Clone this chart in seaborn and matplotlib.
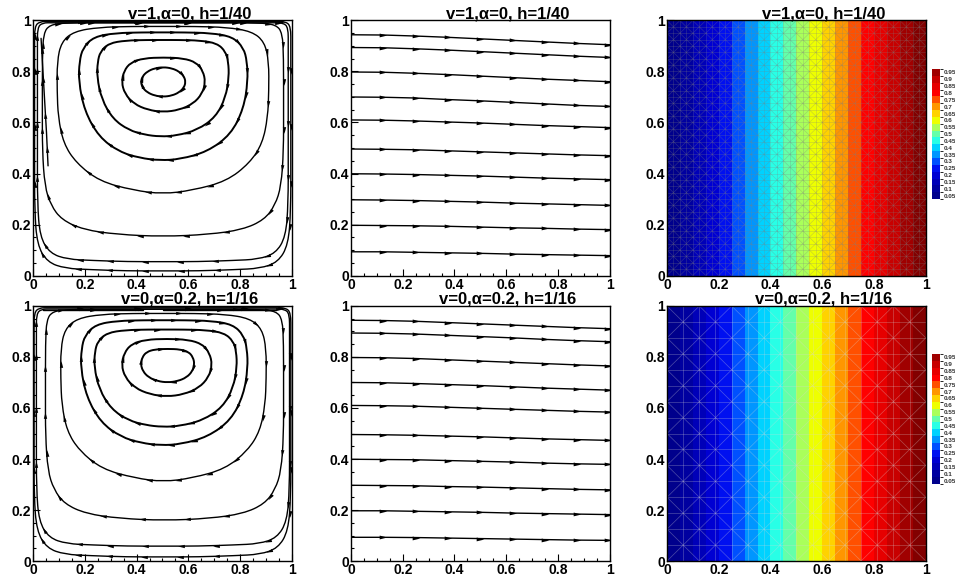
import numpy as np
import matplotlib
matplotlib.use("Agg")
import matplotlib.pyplot as plt
from matplotlib.collections import LineCollection
from matplotlib.colors import ListedColormap, BoundaryNorm
from matplotlib.cm import ScalarMappable
from matplotlib.markers import MarkerStyle
from matplotlib.path import Path
from matplotlib.patches import PathPatch
from matplotlib.transforms import Affine2D
from matplotlib.ticker import FixedLocator, MultipleLocator
import seaborn as sns

sns.set_style("white")
plt.rcParams['font.family'] = ['Liberation Sans', 'DejaVu Sans']
plt.rcParams['font.weight'] = 'bold'
plt.rcParams['text.color'] = 'k'
plt.rcParams['xtick.color'] = 'k'
plt.rcParams['ytick.color'] = 'k'


#%% Data
titles   = ["v=1,\u03b1=0, h=1/40", "v=0,\u03b1=0.2, h=1/16"]
mesh_h   = [1/40, 1/16]

tick_vals   = [0, 0.2, 0.4, 0.6, 0.8, 1]
tick_labels = ["0", "0.2", "0.4", "0.6", "0.8", "1"]

# --- cavity streamlines: normalised loop shapes (clockwise, from left side)
profile_ellipse = [(-0.01, 0.50), (0.029, 0.695), (0.139, 0.861), (0.305, 0.971),
                   (0.50, 1.01), (0.695, 0.971), (0.861, 0.861), (0.971, 0.695),
                   (1.01, 0.50), (0.971, 0.305), (0.861, 0.139), (0.695, 0.029),
                   (0.50, -0.01), (0.305, 0.029), (0.139, 0.139), (0.029, 0.305)]
profile_dome = [(-0.01, 0.55), (0.02, 0.76), (0.10, 0.92), (0.26, 1.00), (0.50, 1.015),
                (0.74, 1.00), (0.90, 0.92), (0.98, 0.76), (1.01, 0.55), (0.97, 0.33),
                (0.86, 0.14), (0.69, 0.025), (0.50, -0.015), (0.31, 0.025), (0.14, 0.14),
                (0.03, 0.33)]
profile_bowl = [(0.00, 0.62), (0.005, 0.78), (0.025, 0.89), (0.09, 0.98), (0.22, 1.01),
                (0.38, 1.015), (0.50, 1.015), (0.62, 1.015), (0.78, 1.01), (0.91, 0.98),
                (0.975, 0.89), (0.995, 0.78), (1.00, 0.62), (0.975, 0.40), (0.90, 0.19),
                (0.76, 0.05), (0.60, -0.01), (0.48, -0.02), (0.36, 0.00), (0.24, 0.05),
                (0.12, 0.17), (0.035, 0.38)]
profile_cup  = [(0.00, 0.62), (0.00, 0.80), (0.02, 0.92), (0.08, 0.985), (0.20, 1.01),
                (0.35, 1.015), (0.50, 1.015), (0.65, 1.015), (0.80, 1.01), (0.92, 0.985),
                (0.98, 0.92), (1.00, 0.80), (1.00, 0.62), (0.995, 0.46), (0.97, 0.30),
                (0.91, 0.18), (0.80, 0.068), (0.64, 0.013), (0.50, -0.01), (0.36, 0.013),
                (0.20, 0.068), (0.09, 0.18), (0.03, 0.30), (0.005, 0.46)]
profile_box  = [(0.00, 0.60), (0.00, 0.85), (0.005, 0.96), (0.03, 1.00), (0.10, 1.01),
                (0.30, 1.01), (0.50, 1.01), (0.70, 1.01), (0.90, 1.01), (0.97, 1.00),
                (0.995, 0.96), (1.00, 0.85), (1.00, 0.60), (1.00, 0.40), (0.99, 0.23),
                (0.965, 0.14), (0.92, 0.07), (0.83, 0.023), (0.69, 0.00), (0.50, -0.01),
                (0.31, 0.00), (0.17, 0.023), (0.08, 0.07), (0.035, 0.14), (0.01, 0.23),
                (0.00, 0.40)]
profile_wall = [(0.00, 0.70), (0.00, 0.90), (0.00, 0.98), (0.02, 1.00), (0.06, 1.00),
                (0.30, 1.00), (0.50, 1.00), (0.70, 1.00), (0.94, 1.00), (0.98, 1.00),
                (1.00, 0.98), (1.00, 0.90), (1.00, 0.70), (1.00, 0.45), (1.00, 0.24),
                (0.99, 0.10), (0.95, 0.03), (0.88, 0.005), (0.78, 0.00), (0.64, -0.005),
                (0.50, -0.005), (0.36, -0.005), (0.22, 0.00), (0.12, 0.005), (0.05, 0.03),
                (0.01, 0.10), (0.00, 0.24), (0.00, 0.45)]
profiles = {"ellipse": profile_ellipse, "dome": profile_dome, "bowl": profile_bowl,
            "cup": profile_cup, "box": profile_box, "wall": profile_wall}

# loop extents (left, right, bottom, top) and shape, inner -> outer
loops_top = [((0.418, 0.588, 0.702, 0.816), "ellipse"),
             ((0.345, 0.663, 0.644, 0.852), "dome"),
             ((0.247, 0.757, 0.552, 0.918), "bowl"),
             ((0.176, 0.830, 0.461, 0.946), "bowl"),
             ((0.093, 0.911, 0.326, 0.967), "cup"),
             ((0.036, 0.968, 0.161, 0.983), "box"),
             ((0.017, 0.986, 0.059, 0.991), "wall"),
             ((0.006, 0.996, 0.023, 0.996), "wall")]
loops_bot = [((0.418, 0.622, 0.702, 0.830), "dome"),
             ((0.345, 0.689, 0.648, 0.868), "dome"),
             ((0.236, 0.788, 0.533, 0.902), "bowl"),
             ((0.184, 0.830, 0.463, 0.937), "bowl"),
             ((0.107, 0.901, 0.317, 0.961), "cup"),
             ((0.048, 0.968, 0.167, 0.979), "box"),
             ((0.013, 0.991, 0.063, 0.988), "wall"),
             ((0.004, 0.996, 0.021, 0.993), "wall")]

open_top = [[(0.058, 0.43), (0.052, 0.56), (0.044, 0.70), (0.036, 0.84), (0.031, 0.93)]]
open_bot = [[(0.039, 0.986), (0.425, 0.986)],
            [(0.502, 0.986), (0.940, 0.986)]]

# --- channel streamlines: y at x stations
line_x = [0, 0.125, 0.25, 0.375, 0.5, 0.625, 0.75, 0.875, 1.0]
lines_top = [[0.944, 0.943, 0.939, 0.934, 0.928, 0.922, 0.916, 0.910, 0.905],
             [0.894, 0.893, 0.889, 0.884, 0.878, 0.872, 0.866, 0.860, 0.855],
             [0.798, 0.797, 0.793, 0.788, 0.782, 0.776, 0.770, 0.765, 0.760],
             [0.700, 0.699, 0.696, 0.690, 0.685, 0.679, 0.673, 0.667, 0.663],
             [0.610, 0.609, 0.606, 0.602, 0.598, 0.593, 0.588, 0.584, 0.580],
             [0.496, 0.495, 0.493, 0.489, 0.485, 0.481, 0.477, 0.473, 0.470],
             [0.399, 0.398, 0.396, 0.393, 0.390, 0.386, 0.382, 0.379, 0.376],
             [0.297, 0.296, 0.294, 0.291, 0.288, 0.284, 0.281, 0.278, 0.275],
             [0.197, 0.196, 0.195, 0.193, 0.190, 0.187, 0.185, 0.182, 0.180],
             [0.093, 0.093, 0.091, 0.089, 0.087, 0.084, 0.082, 0.080, 0.078]]
lines_bot = [[0.944, 0.943, 0.940, 0.935, 0.930, 0.925, 0.920, 0.915, 0.911],
             [0.894, 0.893, 0.890, 0.885, 0.880, 0.875, 0.869, 0.864, 0.860],
             [0.798, 0.797, 0.794, 0.789, 0.784, 0.779, 0.774, 0.769, 0.765],
             [0.700, 0.699, 0.696, 0.692, 0.688, 0.683, 0.678, 0.674, 0.670],
             [0.610, 0.609, 0.607, 0.603, 0.599, 0.595, 0.591, 0.587, 0.584],
             [0.496, 0.495, 0.493, 0.490, 0.487, 0.483, 0.479, 0.476, 0.473],
             [0.399, 0.398, 0.397, 0.394, 0.391, 0.388, 0.384, 0.381, 0.379],
             [0.297, 0.296, 0.295, 0.292, 0.290, 0.287, 0.284, 0.281, 0.279],
             [0.197, 0.197, 0.195, 0.193, 0.191, 0.188, 0.186, 0.184, 0.182],
             [0.093, 0.093, 0.092, 0.090, 0.088, 0.086, 0.084, 0.082, 0.081]]

# --- temperature field (corner values, linear in x)
T_x      = [0, 1]
T_y      = [0, 1]
T_values = [[0, 1], [0, 1]]
T_levels = [0.05, 0.1, 0.15, 0.2, 0.25, 0.3, 0.35, 0.4, 0.45, 0.5,
            0.55, 0.6, 0.65, 0.7, 0.75, 0.8, 0.85, 0.9, 0.95]
band_colors = ["#00008c", "#0000a0", "#0000b8", "#0000d2", "#0010f0",
               "#0050ff", "#0096ff", "#00d2ff", "#28ffe6", "#64ffaa",
               "#aaff5a", "#eeff00", "#ffd200", "#ff9600", "#ff5000",
               "#ff0000", "#e60000", "#c80000", "#a00000", "#820000"]


#%% Layout
Fig_Width, Fig_Height = 9.55, 5.77
col_left   = [0.0346, 0.3675, 0.6984]
col_width  = 0.271
row_bottom = [0.5225, 0.0277]
row_height = 0.442
cbar_left, cbar_width, cbar_height = 0.9759, 0.0084, 0.2253
cbar_bottom = [0.655, 0.1612]

FontSize_TickLabel = 10
FontSize_Title     = 12
Line_Width_Inner   = 1.4
Line_Width_Outer   = 1.0
Arrow_Size_Loop    = 4.8
Arrow_Size_Line    = 5.5

tri_path = Path([(1, 0), (-1, 0.5), (-1, -0.5), (1, 0)],
                [Path.MOVETO, Path.LINETO, Path.LINETO, Path.CLOSEPOLY])


def arrow_marker(theta):
    return MarkerStyle(tri_path, transform=Affine2D().rotate(theta))


def style_axes(ax):
    ax.set_xlim(0, 1)
    ax.set_ylim(0, 1)
    ax.xaxis.set_major_locator(FixedLocator(tick_vals))
    ax.yaxis.set_major_locator(FixedLocator(tick_vals))
    ax.set_xticklabels(tick_labels, fontsize=FontSize_TickLabel, fontweight="bold")
    ax.set_yticklabels(tick_labels, fontsize=FontSize_TickLabel, fontweight="bold")
    ax.xaxis.set_minor_locator(MultipleLocator(0.05))
    ax.yaxis.set_minor_locator(MultipleLocator(0.05))
    ax.tick_params(which="both", direction="in", top=False, right=False,
                   bottom=True, left=True, color="k", width=0.8, pad=1.5)
    ax.tick_params(which="major", length=5)
    ax.tick_params(which="minor", length=2.5)
    for s in ax.spines.values():
        s.set_color("k")
        s.set_linewidth(1.0)


def add_title(ax, text):
    ax.text(0.606, 1.008, text, transform=ax.transAxes, ha="center", va="baseline",
            fontsize=FontSize_Title, fontweight="bold", color="k", clip_on=False)


def put_arrow(ax, x, y, th, ms):
    ax.plot(x, y, marker=arrow_marker(th), ms=ms, color="k", mew=0, ls="none")


def draw_cavity(ax, loops, opens):
    for k, ((l, r, b, t), shape) in enumerate(loops):
        P = np.array([(l + u * (r - l), b + v * (t - b)) for u, v in profiles[shape]])
        n = len(P)
        M = (P + np.roll(P, -1, axis=0)) / 2
        verts = [M[-1]]
        codes = [Path.MOVETO]
        for i in range(n):
            verts += [P[i], M[i]]
            codes += [Path.CURVE3, Path.CURVE3]
        lw = Line_Width_Inner if k < 4 else Line_Width_Outer
        ax.add_patch(PathPatch(Path(verts, codes), fill=False, edgecolor="k", lw=lw))

        # arrowheads at the curve junctions, picked by spacing
        spacing = 0.07 if k < 4 else 0.11
        last = None
        gone = spacing
        for i in range(n):
            if last is not None:
                gone += np.hypot(*(M[i] - last))
            last = M[i]
            if gone >= spacing:
                d = P[(i + 1) % n] - P[i]
                put_arrow(ax, M[i][0], M[i][1], np.arctan2(d[1], d[0]), Arrow_Size_Loop)
                gone = 0

    for line in opens:
        xs = [p[0] for p in line]
        ys = [p[1] for p in line]
        ax.plot(xs, ys, color="k", lw=Line_Width_Outer)
        for i in range(1, len(line)):
            th = np.arctan2(ys[i] - ys[i - 1], xs[i] - xs[i - 1])
            put_arrow(ax, (xs[i] + xs[i - 1]) / 2, (ys[i] + ys[i - 1]) / 2, th, Arrow_Size_Loop)


def draw_channel(ax, lines):
    for ys in lines:
        ax.plot(line_x, ys, color="k", lw=Line_Width_Outer)
        for i in range(1, len(line_x)):
            th = np.arctan2(ys[i] - ys[i - 1], line_x[i] - line_x[i - 1])
            xm = line_x[i] - 0.008 if i == len(line_x) - 1 else line_x[i]
            put_arrow(ax, xm, ys[i], th, Arrow_Size_Line)


def draw_mesh(ax, h, color, alpha, lw):
    n = int(round(1 / h))
    g = [k * h for k in range(n + 1)]
    segs = [[(v, 0), (v, 1)] for v in g] + [[(0, v), (1, v)] for v in g]
    for i in range(n):
        for j in range(n):
            if (i + j) % 2 == 0:
                segs.append([(g[i], g[j]), (g[i + 1], g[j + 1])])
            else:
                segs.append([(g[i], g[j + 1]), (g[i + 1], g[j])])
    ax.add_collection(LineCollection(segs, colors=color, linewidths=lw, alpha=alpha, zorder=2))


def draw_temperature(ax, fig, row):
    levels = [T_x[0]] + T_levels + [T_x[1]]
    ax.contourf(T_x, T_y, T_values, levels=levels, colors=band_colors, zorder=1)
    if row == 0:
        draw_mesh(ax, mesh_h[row], "#808080", 0.4, 0.4)
    else:
        draw_mesh(ax, mesh_h[row], "#d8d8d8", 0.35, 0.5)

    lv = np.array(T_levels)
    bounds = np.r_[lv[0] - 0.025, (lv[:-1] + lv[1:]) / 2, lv[-1] + 0.025]
    cmap = ListedColormap(band_colors[:len(T_levels)])
    norm = BoundaryNorm(bounds, cmap.N)
    cax = fig.add_axes([cbar_left, cbar_bottom[row], cbar_width, cbar_height])
    cb = fig.colorbar(ScalarMappable(norm=norm, cmap=cmap), cax=cax, ticks=T_levels)
    cb.outline.set_visible(False)
    cb.ax.set_yticklabels(["%g" % v for v in T_levels], fontsize=4.6,
                          fontweight="bold", color="#333333")
    cb.ax.tick_params(length=0, pad=2.5)


#%% Figure
fig = plt.figure(figsize=[Fig_Width, Fig_Height], dpi=100)

for row, (loops, opens, lines) in enumerate([(loops_top, open_top, lines_top),
                                              (loops_bot, open_bot, lines_bot)]):
    ax1 = fig.add_axes([col_left[0], row_bottom[row], col_width, row_height])
    draw_cavity(ax1, loops, opens)
    style_axes(ax1)
    add_title(ax1, titles[row])

    ax2 = fig.add_axes([col_left[1], row_bottom[row], col_width, row_height])
    draw_channel(ax2, lines)
    style_axes(ax2)
    add_title(ax2, titles[row])

    ax3 = fig.add_axes([col_left[2], row_bottom[row], col_width, row_height])
    draw_temperature(ax3, fig, row)
    style_axes(ax3)
    add_title(ax3, titles[row])

fig.savefig("out.png", dpi=100)
